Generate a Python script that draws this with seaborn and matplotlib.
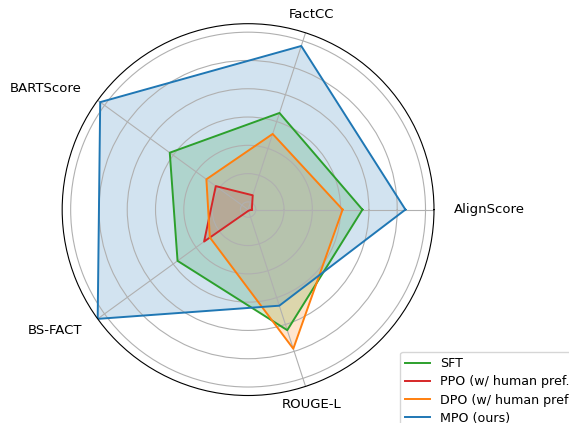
import numpy as np
import matplotlib
matplotlib.use("Agg")
import matplotlib.pyplot as plt
import seaborn as sns

categories = ["AlignScore", "FactCC", "BARTScore", "BS-FACT", "ROUGE-L"]
series_names = ["SFT", "PPO (w/ human pref.)", "DPO (w/ human pref.)", "MPO (ours)"]
sft = [3.77, 3.32, 3.15, 2.81, 4.21]
ppo = [-0.14, 0.26, 1.14, 1.65, -0.23]
dpo = [3.07, 2.54, 1.55, 1.40, 4.90]
mpo = [5.29, 5.81, 6.19, 6.30, 3.30]
ring_ticks = [0, 1, 2, 3, 4, 5, 6]

palette = sns.color_palette("tab10")
colors = [palette[2], palette[3], palette[1], palette[0]]
all_series = [sft, ppo, dpo, mpo]

fig = plt.figure(figsize=(5.69, 4.23), dpi=100)
ax = fig.add_axes([0.109, 0.065, 0.654, 0.879], polar=True)

n = len(categories)
angles = np.linspace(0, 2 * np.pi, n, endpoint=False)
theta = np.concatenate([angles, angles[:1]])

handles = []
for name, vals, col in zip(series_names, all_series, colors):
    r = np.concatenate([vals, vals[:1]])
    sns.lineplot(x=theta, y=r, ax=ax, sort=False, estimator=None,
                 color=col, linewidth=1.4, label=name)
    handles.append(ax.lines[-1])
    ax.fill(theta, r, color=col, alpha=0.2, linewidth=0)

ax.set_ylim(-0.272, 6.30)
ax.set_yticks(ring_ticks)
ax.set_yticklabels([])
ax.set_xticks(angles)
labels = ax.set_xticklabels(categories, fontsize=9.5)
for lab, ang in zip(labels, angles):
    deg = np.degrees(ang)
    if deg < 10 or deg > 350:
        lab.set_horizontalalignment("left")
    elif 100 < deg < 260:
        lab.set_horizontalalignment("right")
    else:
        lab.set_horizontalalignment("center")
ax.set_xlabel("")
ax.set_ylabel("")
ax.grid(True, color="#b0b0b0", linewidth=0.8)

leg = ax.legend(handles=handles, labels=series_names, loc="upper left",
                bbox_to_anchor=(0.703, 0.168), bbox_transform=fig.transFigure,
                borderaxespad=0, fontsize=9.1, labelspacing=0.42)

fig.savefig("out.png", dpi=100)
